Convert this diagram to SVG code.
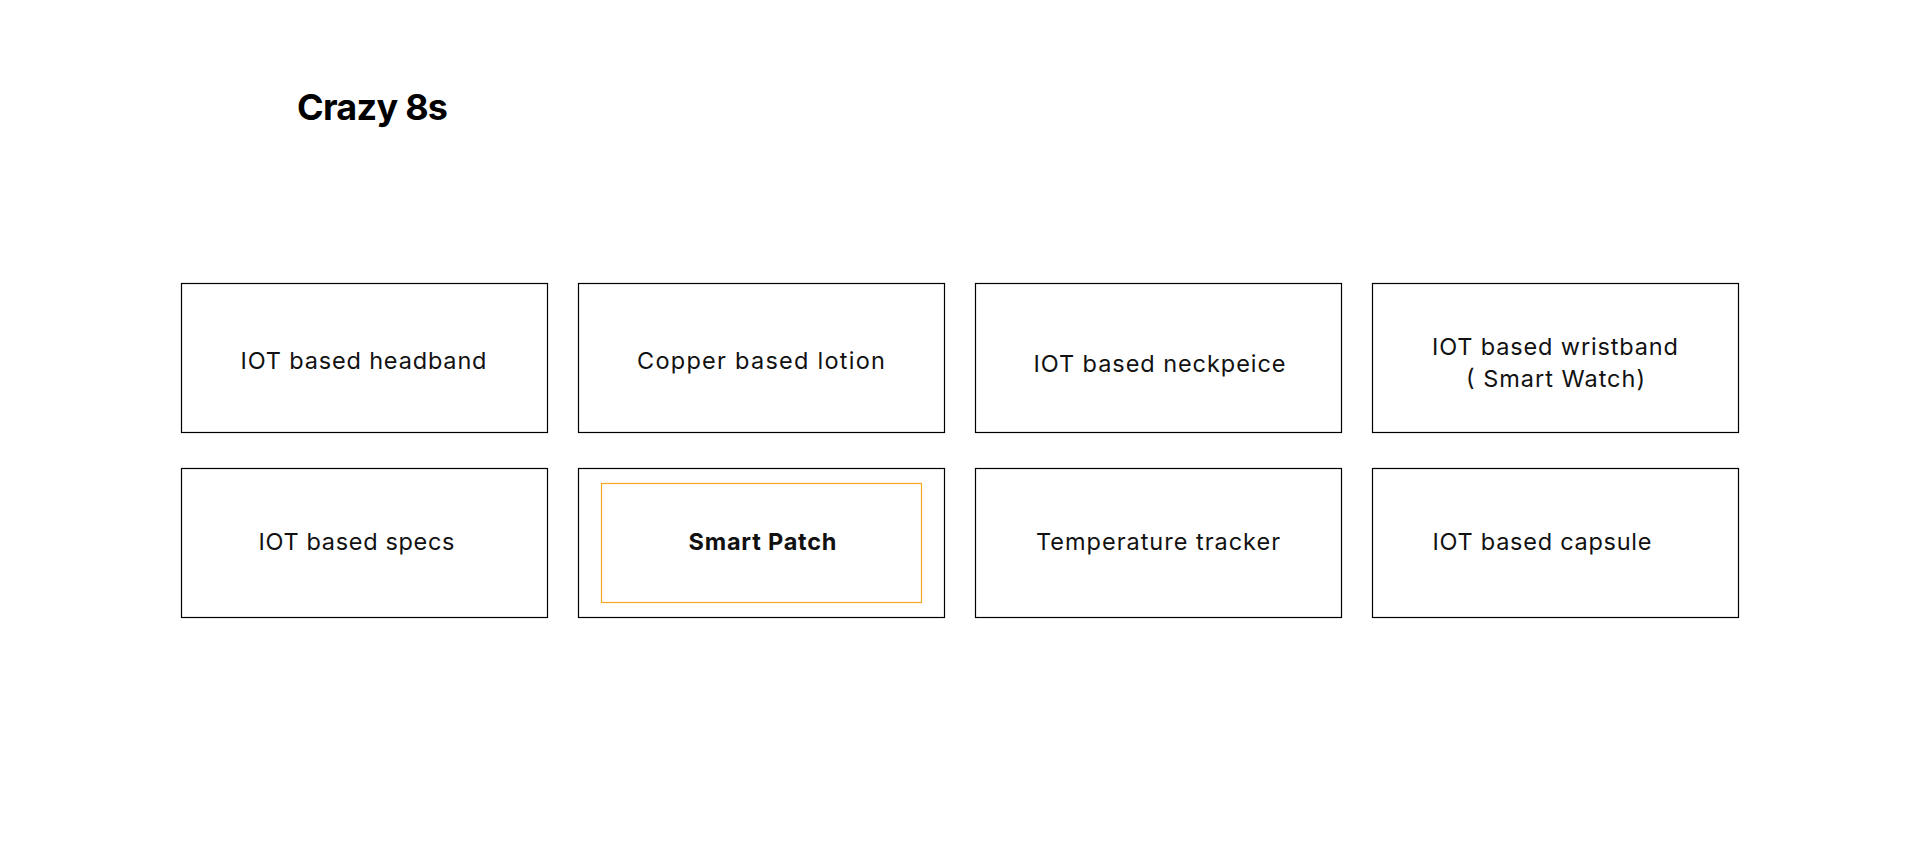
<svg xmlns="http://www.w3.org/2000/svg" width="1920" height="865" viewBox="0 0 1920 865">
<style>
.box{fill:#fff;stroke:#000;stroke-width:1.2}
.hl{fill:none;stroke:#F5A623;stroke-width:1.2}
.lbl{font-family:Inter,"Noto Sans","Liberation Sans",sans-serif;font-size:23.5px;fill:#111;text-anchor:middle}
.bold{font-weight:700}
.title{font-family:Inter,"Noto Sans","Liberation Sans",sans-serif;font-size:36px;font-weight:700;fill:#000}
</style>
<rect width="1920" height="865" fill="#fff"/>
<text class="title" x="297" y="120" textLength="151" lengthAdjust="spacing">Crazy 8s</text>
<g id="connectors"></g>
<g id="n1"><rect class="box" x="181.5" y="283.5" width="366" height="149"/><text class="lbl" x="363.5" y="369" textLength="246" lengthAdjust="spacing">IOT based headband</text></g>
<g id="n2"><rect class="box" x="578.5" y="283.5" width="366" height="149"/><text class="lbl" x="761" y="369" textLength="248" lengthAdjust="spacing">Copper based lotion</text></g>
<g id="n3"><rect class="box" x="975.5" y="283.5" width="366" height="149"/><text class="lbl" x="1159.5" y="372" textLength="252" lengthAdjust="spacing">IOT based neckpeice</text></g>
<g id="n4"><rect class="box" x="1372.5" y="283.5" width="366" height="149"/><text class="lbl" x="1555" y="355" textLength="246" lengthAdjust="spacing">IOT based wristband</text><text class="lbl" x="1555.5" y="386.5" textLength="179" lengthAdjust="spacing">( Smart Watch)</text></g>
<g id="n5"><rect class="box" x="181.5" y="468.5" width="366" height="149"/><text class="lbl" x="356.5" y="550" textLength="196" lengthAdjust="spacing">IOT based specs</text></g>
<g id="n6"><rect class="box" x="578.5" y="468.5" width="366" height="149"/><rect class="hl" x="601.5" y="483.5" width="320" height="119"/><text class="lbl bold" x="762.5" y="549.5" textLength="148" lengthAdjust="spacing">Smart Patch</text></g>
<g id="n7"><rect class="box" x="975.5" y="468.5" width="366" height="149"/><text class="lbl" x="1158" y="549.5" textLength="244" lengthAdjust="spacing">Temperature tracker</text></g>
<g id="n8"><rect class="box" x="1372.5" y="468.5" width="366" height="149"/><text class="lbl" x="1542" y="550" textLength="219" lengthAdjust="spacing">IOT based capsule</text></g>
</svg>
